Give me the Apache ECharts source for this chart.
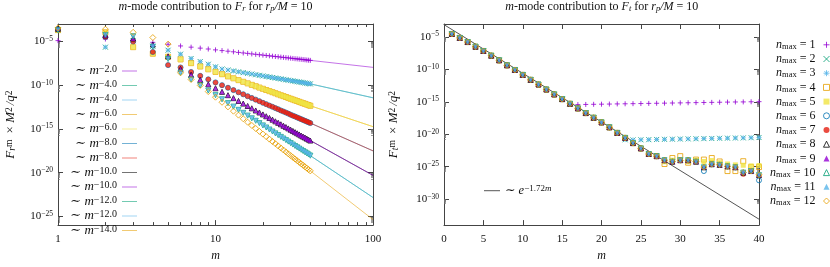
<!DOCTYPE html>
<html><head><meta charset="utf-8">
<script src="https://cdn.jsdelivr.net/npm/echarts@6/dist/echarts.min.js"></script>
<style>html,body{margin:0;padding:0;background:#fff}#c{width:830px;height:267px}</style>
</head><body><div id="c"></div>
<script>
// ---------- DATA (values are log10 of the plotted quantity) ----------
const m = [1,2,3,4,5,6,7,8,9,10,11,12,13,14,15,16,17,18,19,20,21,22,23,24,25,26,27,28,29,30,31,32,33,34,35,36,37,38,39,40];

// Left panel: log10(F_r^m * M^2/q^2)
const Fr_n1 = [-4.90,-4.72,-4.85,-5.10,-5.32,-5.51,-5.65,-5.76,-5.86,-5.96,-6.04,-6.11,-6.18,-6.25,-6.31,-6.36,-6.42,-6.47,-6.51,-6.56,-6.60,-6.64,-6.68,-6.72,-6.75,-6.79,-6.82,-6.85,-6.88,-6.91,-6.94,-6.97,-6.99,-7.02,-7.04,-7.07,-7.09,-7.12,-7.14,-7.16];
const Fr_n2 = [-3.75,-5.65,-4.90,-5.55,-6.00,-6.45,-6.95,-7.30,-7.60,-7.90,-8.15,-8.26,-8.37,-8.47,-8.56,-8.64,-8.72,-8.80,-8.87,-8.94,-9.00,-9.06,-9.12,-9.18,-9.23,-9.28,-9.33,-9.38,-9.43,-9.47,-9.51,-9.56,-9.60,-9.63,-9.67,-9.71,-9.75,-9.78,-9.82,-9.85];
const Fr_n3 = Fr_n2.slice();
const Fr_n4 = [-3.70,-3.95,-5.65,-6.40,-6.75,-7.05,-7.48,-7.86,-8.18,-8.48,-8.74,-8.99,-9.21,-9.42,-9.61,-9.79,-9.96,-10.12,-10.27,-10.41,-10.55,-10.68,-10.80,-10.92,-11.04,-11.15,-11.25,-11.35,-11.45,-11.55,-11.64,-11.73,-11.81,-11.90,-11.98,-12.06,-12.13,-12.21,-12.28,-12.35];
const Fr_n5 = Fr_n4.slice();
const Fr_n6 = [-3.60,-4.50,-5.00,-6.20,-7.70,-7.97,-8.49,-8.93,-9.33,-9.68,-10.00,-10.29,-10.56,-10.81,-11.04,-11.26,-11.46,-11.65,-11.83,-12.01,-12.17,-12.33,-12.47,-12.62,-12.75,-12.89,-13.01,-13.13,-13.25,-13.37,-13.48,-13.58,-13.69,-13.79,-13.88,-13.98,-14.07,-14.16,-14.25,-14.33];
const Fr_n7 = Fr_n6.slice();
const Fr_n8 = [-3.55,-4.30,-4.65,-5.35,-6.70,-8.15,-8.81,-9.39,-9.90,-10.35,-10.76,-11.14,-11.48,-11.80,-12.10,-12.38,-12.64,-12.89,-13.12,-13.34,-13.55,-13.75,-13.94,-14.13,-14.30,-14.47,-14.64,-14.79,-14.94,-15.09,-15.23,-15.37,-15.50,-15.63,-15.76,-15.88,-15.99,-16.11,-16.22,-16.33];
const Fr_n9 = Fr_n8.slice();
const Fr_n10 = [-3.70,-4.25,-4.40,-5.60,-7.00,-8.58,-9.35,-10.02,-10.61,-11.14,-11.61,-12.05,-12.45,-12.82,-13.16,-13.48,-13.79,-14.07,-14.34,-14.60,-14.84,-15.07,-15.30,-15.51,-15.71,-15.91,-16.10,-16.28,-16.45,-16.62,-16.79,-16.95,-17.10,-17.25,-17.39,-17.53,-17.67,-17.80,-17.93,-18.06];
const Fr_n11 = Fr_n10.slice();
const Fr_n12 = [-3.45,-3.60,-3.95,-4.55,-5.30,-8.58,-9.35,-10.02,-10.73,-11.37,-11.95,-12.48,-12.97,-13.42,-13.84,-14.23,-14.60,-14.95,-15.28,-15.59,-15.88,-16.17,-16.44,-16.69,-16.94,-17.18,-17.41,-17.63,-17.85,-18.05,-18.25,-18.44,-18.63,-18.81,-18.99,-19.16,-19.33,-19.49,-19.65,-19.80];

// Left panel fit lines (~ m^p): endpoints at m = 30 and m = 100
const fit_m = [30, 100];
const fit_n1 = [-6.91, -7.96];
const fit_n2 = [-9.35, -11.44];
const fit_n3 = [-9.35, -11.44];
const fit_n4 = [-11.60, -14.74];
const fit_n5 = [-11.60, -14.74];
const fit_n6 = [-13.33, -17.51];
const fit_n7 = [-13.33, -17.51];
const fit_n8 = [-15.08, -20.31];
const fit_n9 = [-15.08, -20.31];
const fit_n10 = [-16.56, -22.84];
const fit_n11 = [-16.56, -22.84];
const fit_n12 = [-18.05, -25.37];
const fit_labels = ['−2.0','−4.0','−4.0','−6.0','−6.0','−8.0','−8.0','−10.0','−10.0','−12.0','−12.0','−14.0'];

// Right panel: log10(F_t^m * M^2/q^2)
const Ft_common = [-4.54,-5.15,-5.78,-6.50,-7.16,-7.88,-8.60,-9.37,-10.09,-10.85,-11.61,-12.33,-13.10,-13.86,-14.58,-15.30,-16.01,-16.73,-17.45,-18.17,-18.93,-19.79,-20.56,-21.36,-22.18,-23.04,-23.37];
const Ft_n1_tail = [-15.42,-15.40,-15.38,-15.36,-15.34,-15.32,-15.30,-15.28,-15.26,-15.24,-15.22,-15.20,-15.18,-15.16,-15.14,-15.12,-15.10,-15.08,-15.06,-15.04,-15.02,-15.01,-14.99,-14.97]; // m = 17..40
const Ft_n2_tail = [-20.85,-20.87,-20.85,-20.83,-20.80,-20.78,-20.76,-20.73,-20.71,-20.69,-20.67,-20.65,-20.62,-20.60,-20.58,-20.56,-20.53,-20.50]; // m = 23..40
const Ft_n3_tail = [-20.82,-20.86,-20.84,-20.82,-20.80,-20.77,-20.75,-20.73,-20.71,-20.68,-20.66,-20.64,-20.62,-20.60,-20.57,-20.55,-20.53,-20.50];
// m = 28..40
const Ft_n4_tail = [-24.58,-23.66,-23.37,-24.38,-23.90,-23.90,-23.66,-24.19,-25.67,-25.67,-24.15,-25.05,-25.05];
const Ft_n5_tail = [-24.23,-24.00,-24.00,-24.19,-24.00,-24.19,-24.05,-24.38,-24.58,-24.72,-24.77,-24.87,-24.81];
const Ft_n6_tail = [-24.00,-24.23,-24.00,-24.00,-24.23,-25.67,-24.62,-24.72,-24.95,-25.09,-25.91,-25.67,-27.10];
const Ft_n7_tail = [-24.00,-24.23,-24.00,-24.00,-24.23,-25.09,-24.62,-24.72,-24.95,-25.09,-26.16,-25.67,-26.30];
const Ft_n8_tail = [-24.00,-24.23,-24.00,-24.00,-24.23,-25.09,-24.62,-24.72,-24.95,-25.09,-25.91,-25.67,-26.30];
const Ft_n9_tail = [-24.02,-24.25,-24.02,-24.02,-24.25,-25.05,-24.60,-24.70,-24.93,-25.07,-25.88,-25.65,-26.25];
const Ft_n10_tail = [-24.00,-24.23,-24.00,-24.00,-24.23,-25.09,-24.62,-24.72,-24.95,-25.09,-25.91,-25.67,-26.30];
const Ft_n11_tail = [-24.02,-24.23,-24.02,-24.02,-24.23,-25.07,-24.62,-24.72,-24.95,-25.07,-25.90,-25.65,-26.28];
const Ft_n12_tail = [-24.00,-24.20,-24.00,-24.00,-24.20,-25.05,-24.60,-24.70,-24.95,-25.05,-25.88,-25.65,-26.25];

const Ft_n1 = Ft_common.slice(0,16).concat(Ft_n1_tail);
const Ft_n2 = Ft_common.slice(0,22).concat(Ft_n2_tail);
const Ft_n3 = Ft_common.slice(0,22).concat(Ft_n3_tail);
const Ft_n4 = Ft_common.concat(Ft_n4_tail);
const Ft_n5 = Ft_common.concat(Ft_n5_tail);
const Ft_n6 = Ft_common.concat(Ft_n6_tail);
const Ft_n7 = Ft_common.concat(Ft_n7_tail);
const Ft_n8 = Ft_common.concat(Ft_n8_tail);
const Ft_n9 = Ft_common.concat(Ft_n9_tail);
const Ft_n10 = Ft_common.concat(Ft_n10_tail);
const Ft_n11 = Ft_common.concat(Ft_n11_tail);
const Ft_n12 = Ft_common.concat(Ft_n12_tail);

// Right panel reference line ~ e^{-1.72 m}: endpoints
const exp_m = [0, 40];
const exp_val = [-3.10, -33.09];

// Tick values
const leftXTicks = [1, 10, 100];
const leftXMinor = [2,3,4,5,6,7,8,9,20,30,40,50,60,70,80,90];
const leftYTicks = [-25,-20,-15,-10,-5];
const rightYTicks = [-30,-25,-20,-15,-10,-5];
const minorFactors = [2,3,4,5,6,7,8,9];

// ---------- STYLE ----------
const Fr = [Fr_n1,Fr_n2,Fr_n3,Fr_n4,Fr_n5,Fr_n6,Fr_n7,Fr_n8,Fr_n9,Fr_n10,Fr_n11,Fr_n12];
const Ft = [Ft_n1,Ft_n2,Ft_n3,Ft_n4,Ft_n5,Ft_n6,Ft_n7,Ft_n8,Ft_n9,Ft_n10,Ft_n11,Ft_n12];
const fits = [fit_n1,fit_n2,fit_n3,fit_n4,fit_n5,fit_n6,fit_n7,fit_n8,fit_n9,fit_n10,fit_n11,fit_n12];
const colors = ['#9400d3','#009e73','#56b4e9','#e69f00','#f0e442','#0072b2','#e51e10','#000000','#9400d3','#009e73','#56b4e9','#e69f00'];
const SERIF = "'Liberation Serif','DejaVu Serif',serif";
const TXT = '#111';
function mkRich(fs, ss) {
  return {
    t: {fontFamily: SERIF, fontSize: fs, lineHeight: 13, color: TXT},
    i: {fontFamily: SERIF, fontSize: fs, lineHeight: 13, fontStyle: 'italic', color: TXT},
    s: {fontFamily: SERIF, fontSize: ss, lineHeight: 7, verticalAlign: 'top', color: TXT},
    si: {fontFamily: SERIF, fontSize: ss, lineHeight: 7, verticalAlign: 'top', fontStyle: 'italic', color: TXT},
    b: {fontFamily: SERIF, fontSize: ss, lineHeight: 7, verticalAlign: 'bottom', color: TXT},
    bi: {fontFamily: SERIF, fontSize: ss, lineHeight: 7, verticalAlign: 'bottom', fontStyle: 'italic', color: TXT},
    sp4: {width: 5, lineHeight: 13},
    sp6: {width: 6, lineHeight: 13},
    g3: {width: 3, lineHeight: 13},
    g2: {width: 2, lineHeight: 13}
  };
}
const richTick = mkRich(11, 7.5);
const richBig = mkRich(12, 8.5);
const richName = mkRich(13, 9.5);
const richLeg = mkRich(13, 10);
const PLUS = 'path://M0,5L10,5M5,0L5,10';
const CROSS = 'path://M0,0L10,10M10,0L0,10';
const STAR = 'path://M0,5L10,5M5,0L5,10M1.5,1.5L8.5,8.5M8.5,1.5L1.5,8.5';
function marker(k) {
  const c = colors[k-1];
  const open = {color: 'rgba(255,255,255,0)', borderColor: c, borderWidth: 1};
  const fill = {color: c, borderWidth: 0};
  const t = [
    [PLUS, open, 5, 0], [CROSS, open, 5, 0], [STAR, open, 5, 0],
    ['rect', open, 5, 0], ['rect', fill, 5, 0], ['circle', open, 5, 0], ['circle', fill, 5, 0],
    ['triangle', open, 5, 0], ['triangle', fill, 5, 0], ['triangle', open, 5, 180], ['triangle', fill, 5, 180],
    ['diamond', open, 6, 0]
  ][k-1];
  return {symbol: t[0], itemStyle: t[1], symbolSize: t[2], symbolRotate: t[3]};
}
const BORDER = '#444';
function tickAxisBase() {
  return {type: 'value', axisLine: {show: true, onZero: false, lineStyle: {color: BORDER, width: 1}},
          splitLine: {show: false}, axisPointer: {show: false}};
}
const log10 = Math.log10;
const supLabel = v => '{t|10}{s|−' + Math.abs(Math.round(v)) + '}';
const yName = sub => '{i|F}{bi|' + sub + '}{s|m}{g3| }{t| × }{i|M}{s|2}{g2| }{i|/q}{s|2}';
// minor ticks of a log axis: k x 10^(n-1) below each labelled decade n
const minorOf = majors => [].concat(...majors.map(n => minorFactors.map(k => n - 1 + log10(k))));

function minorY(grid, pos, mn, mx, majors) {
  return Object.assign(tickAxisBase(), {gridIndex: grid, position: pos, min: mn, max: mx, axisLine: {show: false, onZero: false},
    axisTick: {inside: true, length: 2, customValues: minorOf(majors), lineStyle: {color: '#777', width: 0.7}}, axisLabel: {show: false}});
}

const xAxis = [
  Object.assign(tickAxisBase(), {gridIndex: 0, position: 'bottom', min: 0, max: 2,
    axisTick: {inside: true, length: 5, customValues: leftXTicks.map(log10), lineStyle: {color: BORDER}},
    axisLabel: {customValues: leftXTicks.map(log10), margin: 8, formatter: v => '{t|' + Math.round(Math.pow(10, v)) + '}', rich: richTick},
    name: '{i|m}', nameLocation: 'middle', nameGap: 15, nameTextStyle: {rich: richBig}}),
  Object.assign(tickAxisBase(), {gridIndex: 0, position: 'bottom', min: 0, max: 2, axisLine: {show: false, onZero: false},
    axisTick: {inside: true, length: 3, customValues: leftXMinor.map(log10), lineStyle: {color: BORDER}}, axisLabel: {show: false}}),
  Object.assign(tickAxisBase(), {gridIndex: 0, position: 'top', min: 0, max: 2,
    axisTick: {inside: true, length: 5, customValues: leftXTicks.map(log10), lineStyle: {color: BORDER}}, axisLabel: {show: false}}),
  Object.assign(tickAxisBase(), {gridIndex: 0, position: 'top', min: 0, max: 2, axisLine: {show: false, onZero: false},
    axisTick: {inside: true, length: 3, customValues: leftXMinor.map(log10), lineStyle: {color: BORDER}}, axisLabel: {show: false}}),
  Object.assign(tickAxisBase(), {gridIndex: 1, position: 'bottom', min: 0, max: 40, interval: 5,
    axisTick: {inside: true, length: 5, lineStyle: {color: BORDER}},
    axisLabel: {margin: 8, formatter: v => '{t|' + v + '}', rich: richTick},
    name: '{i|m}', nameLocation: 'middle', nameGap: 15, nameTextStyle: {rich: richBig}}),
  Object.assign(tickAxisBase(), {gridIndex: 1, position: 'top', min: 0, max: 40, interval: 5,
    axisTick: {inside: true, length: 5, lineStyle: {color: BORDER}}, axisLabel: {show: false}})
];
const yAxis = [
  Object.assign(tickAxisBase(), {gridIndex: 0, position: 'left', min: -26, max: -3,
    axisTick: {inside: true, length: 5, customValues: leftYTicks, lineStyle: {color: BORDER}},
    axisLabel: {customValues: leftYTicks, margin: 5, formatter: supLabel, rich: richTick},
    name: yName('r'), nameLocation: 'middle', nameRotate: 90, nameGap: 41, nameTextStyle: {rich: richName}}),
  Object.assign(tickAxisBase(), {gridIndex: 0, position: 'right', min: -26, max: -3,
    axisTick: {inside: true, length: 5, customValues: leftYTicks, lineStyle: {color: BORDER}}, axisLabel: {show: false}}),
  Object.assign(tickAxisBase(), {gridIndex: 1, position: 'left', min: -34, max: -3,
    axisTick: {inside: true, length: 5, customValues: rightYTicks, lineStyle: {color: BORDER}},
    axisLabel: {customValues: rightYTicks, margin: 5, formatter: supLabel, rich: richTick},
    name: yName('t'), nameLocation: 'middle', nameRotate: 90, nameGap: 44, nameTextStyle: {rich: richName}}),
  Object.assign(tickAxisBase(), {gridIndex: 1, position: 'right', min: -34, max: -3,
    axisTick: {inside: true, length: 5, customValues: rightYTicks, lineStyle: {color: BORDER}}, axisLabel: {show: false}}),
  minorY(0, 'left', -26, -3, leftYTicks),
  minorY(0, 'right', -26, -3, leftYTicks),
  minorY(1, 'left', -34, -3, rightYTicks),
  minorY(1, 'right', -34, -3, rightYTicks)
];

const series = [];
// fit lines (left)
fits.forEach((f, i) => {
  const c = colors[i];
  series.push({type: 'line', name: 'fit' + (i+1), xAxisIndex: 0, yAxisIndex: 0,
    data: fit_m.map((mm, j) => [log10(mm), f[j]]), symbol: 'none', showSymbol: false,
    lineStyle: {color: c, width: 1, opacity: 0.55}, itemStyle: {color: c, opacity: 0.55}, silent: true, z: 1});
});
// exp line (right)
series.push({type: 'line', name: 'fitexp', xAxisIndex: 4, yAxisIndex: 2,
  data: exp_m.map((mm, j) => [mm, exp_val[j]]), symbol: 'none', showSymbol: false,
  lineStyle: {color: '#555', width: 1}, itemStyle: {color: '#555'}, silent: true, z: 1});
// scatter
for (let k = 1; k <= 12; k++) {
  const mk = marker(k);
  series.push(Object.assign({type: 'scatter', name: 'n' + k, xAxisIndex: 0, yAxisIndex: 0,
    data: m.map((mm, i) => [log10(mm), Fr[k-1][i]]), silent: true, z: 2}, mk));
}
for (let k = 1; k <= 12; k++) {
  const mk = marker(k);
  series.push(Object.assign({type: 'scatter', name: 'n' + k, xAxisIndex: 4, yAxisIndex: 2,
    data: m.map((mm, i) => [mm, Ft[k-1][i]]), silent: true, z: 2}, mk));
}

const option = {
  animation: false,
  backgroundColor: '#fff',
  textStyle: {fontFamily: SERIF},
  title: [
    {text: '{i|m}{t|-mode contribution to }{i|F}{bi|r}{t| for }{i|r}{bi|p}{i|/M}{t| = 10}', left: 215.5, top: 0, textAlign: 'center', padding: 0, textStyle: {rich: richBig, fontSize: 12, fontWeight: 'normal'}},
    {text: '{i|m}{t|-mode contribution to }{i|F}{bi|t}{t| for }{i|r}{bi|p}{i|/M}{t| = 10}', left: 601.8, top: 0, textAlign: 'center', padding: 0, textStyle: {rich: richBig, fontSize: 12, fontWeight: 'normal'}}
  ],
  grid: [
    {left: 58, top: 24, width: 315, height: 216},
    {left: 444, top: 24, width: 315, height: 216}
  ],
  legend: [
    {data: fits.map((f, i) => 'fit' + (i+1)), orient: 'vertical', right: 693, top: 64.5, padding: 0,
     icon: 'rect', itemWidth: 15, itemHeight: 1, itemGap: 1.5, align: 'right', selectedMode: false,
     formatter: name => { const i = +name.slice(3) - 1; const lab = fit_labels[i];
       return (lab.length < 5 ? '{sp4| }' : '') + '{t|∼ }{i|m}{s|' + lab + '}'; },
     textStyle: {rich: richLeg, fontFamily: SERIF}},
    {data: ['n1','n2','n3','n4','n5','n6','n7','n8','n9','n10','n11','n12'], orient: 'vertical', right: 0, top: 38.8, padding: 0,
     itemWidth: 6, itemHeight: 6, itemGap: 1.7, align: 'right', selectedMode: false,
     itemStyle: {borderWidth: 1},
     formatter: name => { const k = name.slice(1);
       return (k.length < 2 ? '{sp6| }' : '') + '{i|n}{b|max}{t| = ' + k + '}{g3| }'; },
     textStyle: {rich: richBig, fontFamily: SERIF}},
    {data: ['fitexp'], orient: 'vertical', left: 484, top: 184.2, padding: 0, icon: 'rect', itemWidth: 16, itemHeight: 1,
     align: 'left', selectedMode: false,
     formatter: () => '{t|∼ }{i|e}{s|−1.72}{si|m}', textStyle: {rich: mkRich(12.5, 9), fontFamily: SERIF}}
  ],
  xAxis, yAxis, series
};
const chart = echarts.init(document.getElementById('c'), null, {renderer: 'canvas'});
chart.setOption(option);
</script></body></html>
